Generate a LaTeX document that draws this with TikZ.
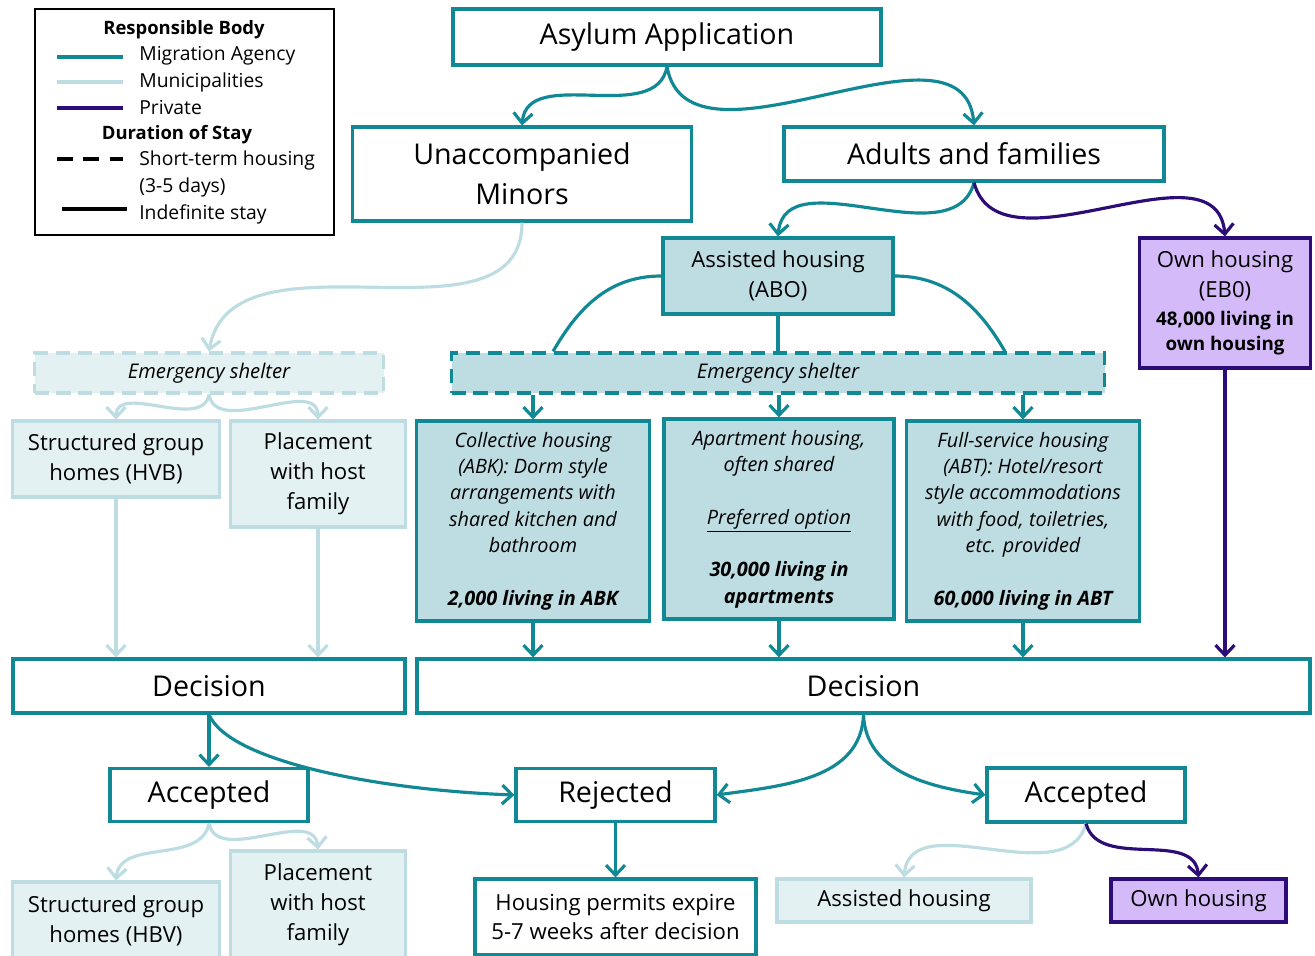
\documentclass[tikz,border=0pt]{standalone}
\usepackage{fontspec}
\setmainfont{Open Sans}
\usetikzlibrary{arrows.meta,calc}

\definecolor{magteal}{RGB}{16,137,148}
\definecolor{munline}{RGB}{189,221,227}
\definecolor{munfill}{RGB}{228,241,243}
\definecolor{abofill}{RGB}{190,221,226}
\definecolor{privline}{RGB}{44,12,118}
\definecolor{privfill}{RGB}{213,186,250}

\tikzset{
  wh/.style 2 args={minimum width=#1*0.02cm, minimum height=#2*0.02cm},
  box/.style={draw, line width=1.8pt, inner sep=1pt, align=center},
  mabox/.style={box, draw=magteal, fill=white, font=\fontsize{16.3}{22.5}\selectfont},
  abobox/.style={box, draw=magteal, fill=abofill, font=\fontsize{12.6}{17}\selectfont},
  munbox/.style={box, draw=munline, fill=munfill, font=\fontsize{12.6}{17}\selectfont},
  ownbox/.style={box, draw=privline, fill=privfill, font=\fontsize{12.6}{17}\selectfont},
  midbox/.style={box, draw=magteal, fill=white, font=\fontsize{12.6}{17}\selectfont},
  shelter/.style={box, dash pattern=on 8pt off 4.5pt, font=\fontsize{11.5}{15}\selectfont\itshape},
  info/.style={font=\fontsize{11.3}{15}\selectfont\itshape},
  legtxt/.style={anchor=west, align=left, inner sep=0pt, font=\fontsize{11}{15}\selectfont},
  legtitle/.style={inner sep=0pt, font=\fontsize{10.5}{15}\selectfont\bfseries},
  barb/.style={-{Straight Barb[length=2mm,width=3.8mm]}},
  malink/.style={draw=magteal, line width=1.8pt},
  munlink/.style={draw=munline, line width=1.8pt},
  ownlink/.style={draw=privline, line width=1.8pt},
}

\begin{document}
\begin{tikzpicture}[x=0.02cm, y=0.02cm]
    \useasboundingbox (0,0) rectangle (1315,-956);

    % legend
    \node[draw, line width=0.9pt, wh={299}{226}] (legend) at (184.5,-122) {};
    \node[legtitle] (legbody) at (184,-30) {Responsible Body};
    \draw[malink] (57,-57) -- (123,-57);
    \node[legtxt] (legma) at (139,-56) {Migration Agency};
    \draw[munlink] (57,-82) -- (123,-82);
    \node[legtxt] (legmun) at (139,-82) {Municipalities};
    \draw[ownlink] (57,-108) -- (123,-108);
    \node[legtxt] (legpriv) at (139,-108) {Private};
    \node[legtitle] (legstay) at (177,-135) {Duration of Stay};
    \draw[line width=1.8pt, dash pattern=on 9pt off 6pt] (57,-159) -- (123,-159);
    \node[legtxt] (legshort) at (139,-174) {Short-term housing\\(3-5 days)};
    \draw[line width=1.8pt] (62,-209) -- (127,-209);
    \node[legtxt] (legindef) at (139,-214) {Indefinite stay};

    % application
    \node[mabox, wh={428}{56}] (asylum) at (667,-37) {Asylum Application};
    \node[mabox, wh={339}{94}] (unacc) at (522,-174) {Unaccompanied\\Minors};
    \node[mabox, wh={380}{54}] (adults) at (974,-154) {Adults and families};

    \draw[malink, barb] (asylum.south) to[out=-100, in=85] (unacc.north);
    \draw[malink, barb] (asylum.south) to[out=-80, in=95] (adults.north);

    % adults and families
    \node[abobox, wh={230}{76}] (abo) at (778,-276) {Assisted housing\\(ABO)};
    \node[ownbox, wh={171}{130}] (ebo) at (1225,-303) {Own housing\\(EB0)\\[-1pt]
        {\fontsize{10.7}{15}\selectfont\bfseries 48,000 living in}\\[-3pt]
        {\fontsize{10.7}{15}\selectfont\bfseries own housing}};
    \node[shelter, draw=magteal, fill=abofill, wh={653}{40}] (shelterR) at (778,-373) {Emergency shelter};

    \draw[malink, barb] (adults.south) to[out=-105, in=85] (abo.north);
    \draw[ownlink, barb] (adults.south) to[out=-75, in=95] (ebo.north);
    \draw[malink] (abo.west) to[out=180, in=60] ([xshift=-4.5cm]shelterR.north);
    \draw[malink] (abo.east) to[out=0, in=120] ([xshift=4.54cm]shelterR.north);
    \draw[malink] (abo.south) -- (shelterR.north);

    \node[abobox, info, wh={233}{200}] (abk) at (533,-521) {Collective housing\\(ABK): Dorm style\\arrangements with\\shared kitchen and\\bathroom\\[15pt]
        \textbf{2,000 living in ABK}};
    \node[abobox, info, wh={230}{200}] (apt) at (779,-519) {Apartment housing,\\often shared\\[15pt]
        \underline{Preferred option}\\[15pt]
        \textbf{30,000 living in}\\\textbf{apartments}};
    \node[abobox, info, wh={233}{200}] (abt) at (1023,-521) {Full-service housing\\(ABT): Hotel/resort\\style accommodations\\with food, toiletries,\\etc. provided\\[15pt]
        \textbf{60,000 living in ABT}};

    \draw[malink, barb] (abk.north |- shelterR.south) -- (abk.north);
    \draw[malink, barb] (apt.north |- shelterR.south) -- (apt.north);
    \draw[malink, barb] (abt.north |- shelterR.south) -- (abt.north);

    % unaccompanied minors
    \node[shelter, draw=munline, fill=munfill, wh={349}{40}] (shelterL) at (209,-373) {Emergency shelter};
    \node[munbox, wh={207}{76}] (hvb) at (116,-459) {Structured group\\homes (HVB)};
    \node[munbox, wh={175}{106}] (hostA) at (318,-474) {Placement\\with host\\family};

    \draw[munlink, barb] (unacc.south) to[out=-90, in=80] (shelterL.north);
    \draw[munlink, barb] (shelterL.south) to[out=-100, in=90] (hvb.north);
    \draw[munlink, barb] (shelterL.south) to[out=-80, in=90] (hostA.north);

    % decisions
    \node[mabox, wh={392}{54}] (decL) at (209,-686) {Decision};
    \node[mabox, wh={893}{54}] (decR) at (863.5,-686) {Decision};

    \draw[munlink, barb] (hvb.south) -- (hvb.south |- decL.north);
    \draw[munlink, barb] (hostA.south) -- (hostA.south |- decL.north);
    \draw[malink, barb] (abk.south) -- (abk.south |- decR.north);
    \draw[malink, barb] (apt.south) -- (apt.south |- decR.north);
    \draw[malink, barb] (abt.south) -- (abt.south |- decR.north);
    \draw[ownlink, barb] (ebo.south) -- (ebo.south |- decR.north);

    \node[mabox, wh={198}{53}] (accL) at (209,-795) {Accepted};
    \node[mabox, wh={199}{53}] (rej) at (615.5,-795) {Rejected};
    \node[mabox, wh={198}{54}] (accR) at (1086,-795) {Accepted};

    \draw[malink, barb] (decL.south) -- (accL.north);
    \draw[malink, barb] (decL.south) .. controls +(20,-47) and +(-136,5) .. (rej.west);
    \draw[malink, barb] (decR.south) to[out=-92, in=8] (rej.east);
    \draw[malink, barb] (decR.south) to[out=-88, in=172] (accR.west);

    % outcomes
    \node[munbox, wh={207}{78}] (hbv) at (116,-921) {Structured group\\homes (HBV)};
    \node[munbox, wh={175}{108}] (hostB) at (318,-905) {Placement\\with host\\family};
    \node[midbox, wh={281}{76}] (permit) at (615.5,-917) {Housing permits expire\\5-7 weeks after decision};
    \node[munbox, wh={254}{43}] (assistB) at (904,-900.5) {Assisted housing};
    \node[ownbox, wh={175}{43}] (ownB) at (1198.5,-900.5) {Own housing};

    \draw[munlink, barb] (accL.south) to[out=-100, in=85] (hbv.north);
    \draw[munlink, barb] (accL.south) to[out=-80, in=95] (hostB.north);
    \draw[malink, barb] (rej.south) -- (permit.north);
    \draw[munlink, barb] (accR.south) to[out=-105, in=85] (assistB.north);
    \draw[ownlink, barb] (accR.south) to[out=-75, in=95] (ownB.north);
\end{tikzpicture}
\end{document}
